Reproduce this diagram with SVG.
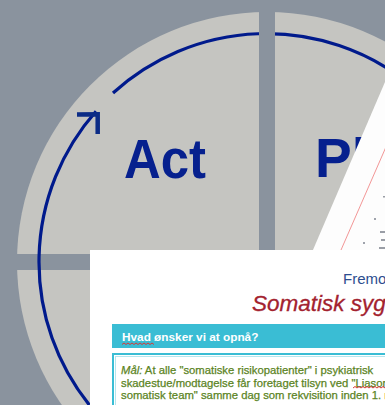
<svg xmlns="http://www.w3.org/2000/svg" width="385" height="405" viewBox="0 0 385 405">
<style>
.band{fill:#8a939e}
.arc{fill:none;stroke:#001a8c;stroke-width:3.2}
.pdca{font-family:"Liberation Sans",Arial,sans-serif;font-weight:bold;font-size:55px;fill:#06208e}
.body{font-family:"Liberation Sans",Arial,sans-serif;font-size:11.3px;fill:#5b8424;stroke:#5b8424;stroke-width:0.25}
.squig{fill:none;stroke:#d63a3a;stroke-width:1}
.smudge{fill:#9a9ea6}
</style>
<rect width="385" height="405" fill="#8a939e"/>
<g id="cycle">
  <circle cx="267" cy="262" r="250" fill="#c5c5c1"/>
  <rect class="band" x="0" y="254" width="100" height="16"/>
  <path class="arc" d="M89.4,405 A228,228 0 0 1 96,111.2"/>
  <path class="arc" d="M113,93 A228,228 0 0 1 407,82"/>
  <rect class="band" x="259" y="0" width="16" height="252"/>
  <polyline points="77,114.5 97.7,114.3 97.7,134" fill="none" stroke="#0c2c86" stroke-width="4.5" stroke-linejoin="miter"/>
  <text class="pdca" x="124" y="178" textLength="82" lengthAdjust="spacingAndGlyphs">Act</text>
  <text class="pdca" x="315" y="177">Pl</text>
</g>
<g id="back-page">
  <polygon points="390,70.4 390,252 312.1,252" fill="#fdfdfd"/>
  <line x1="389" y1="140" x2="341" y2="250" stroke="#f08a8a" stroke-width="0.9"/>
  <circle cx="375" cy="219" r="1" fill="#7f8590"/>
  <circle cx="364" cy="243" r="1" fill="#7f8590"/>
  <rect class="smudge" x="383" y="196" width="2" height="1.5"/>
  <rect class="smudge" x="380" y="231" width="5" height="2"/>
  <rect class="smudge" x="381" y="239" width="4" height="2"/>
  <rect class="smudge" x="379" y="247" width="6" height="2"/>
</g>
<g id="front-page">
  <rect x="90" y="250" width="300" height="160" fill="#ffffff"/>
  <text x="343" y="284" font-family="'Liberation Sans',Arial,sans-serif" font-size="15" fill="#2d4d8f">Fremo</text>
  <text x="252" y="311" font-family="'Liberation Sans',Arial,sans-serif" font-size="22.5" font-style="italic" fill="#a3222f" stroke="#a3222f" stroke-width="0.3">Somatisk syg</text>
  <rect x="112" y="324" width="280" height="24" fill="#3abdd4"/>
  <text x="122" y="341" font-family="'Liberation Sans',Arial,sans-serif" font-size="11.8" font-weight="bold" fill="#ffffff">Hvad ønsker vi at opnå?</text>
  <path class="squig" d="M122,344.5 l2,-1.5 l2,1.5 l2,-1.5 l2,1.5 l2,-1.5 l2,1.5 l2,-1.5 l2,1.5 l2,-1.5 l2,1.5 l2,-1.5 l2,1.5 l2,-1.5 l2,1.5 l2,-1.5 l2,1.5"/>
  <rect x="113" y="354" width="290" height="60" fill="none" stroke="#3abdd4" stroke-width="2"/>
  <rect x="115.5" y="356.5" width="290" height="60" fill="none" stroke="#b5e6ee" stroke-width="1"/>
  <text class="body" x="121" y="374"><tspan font-style="italic">Mål:</tspan> At alle "somatiske risikopatienter" i psykiatrisk</text>
  <text class="body" x="121" y="386.5">skadestue/modtagelse får foretaget tilsyn ved "Liason</text>
  <path class="squig" d="M353,388 l2,-1.5 l2,1.5 l2,-1.5 l2,1.5 l2,-1.5 l2,1.5 l2,-1.5 l2,1.5 l2,-1.5 l2,1.5 l2,-1.5 l2,1.5 l2,-1.5 l2,1.5 l2,-1.5 l2,1.5"/>
  <text class="body" x="121" y="399">somatisk team" samme dag som rekvisition inden 1. n</text>
</g>
</svg>
